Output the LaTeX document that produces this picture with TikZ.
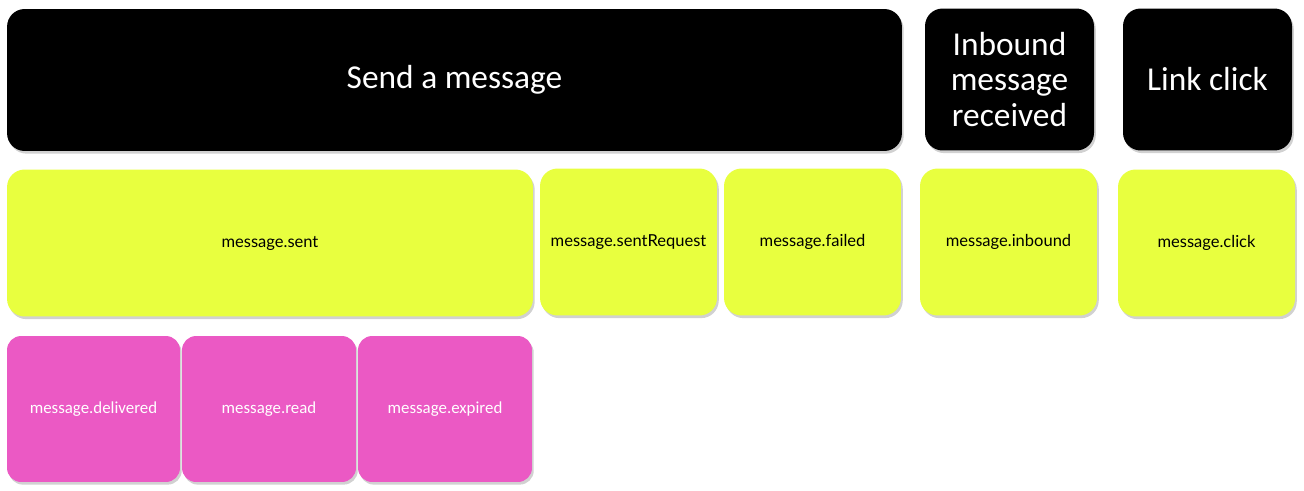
\documentclass[tikz,border=0pt]{standalone}
\usepackage{fontspec}
\setmainfont{Carlito}
\newfontfamily\eventfont{Lato}
\usepackage{tikz}
\usetikzlibrary{shadows,positioning}
\definecolor{evyellow}{HTML}{E8FF3F}
\definecolor{evpink}{HTML}{EB59C4}

\begin{document}
\begin{tikzpicture}[x=0.02cm,y=-0.02cm,
  shade box/.style={rounded corners=10pt,inner sep=0pt,
    drop shadow={shadow xshift=1pt,shadow yshift=-1.5pt,opacity=0.3,fill=black!60}},
  header/.style={shade box,fill=black,text=white,align=center,
    font=\fontsize{19}{20.4}\selectfont,minimum height=2.84cm},
  event/.style={shade box,fill=evyellow,text=black,minimum height=2.94cm,
    font=\eventfont\fontsize{9.4}{10}\selectfont},
  status/.style={shade box,rounded corners=8pt,fill=evpink,text=white,minimum height=2.92cm,
    font=\fontsize{9.6}{10}\selectfont}]
\useasboundingbox (0,0) rectangle (1304,490);
% top row: triggers
\node[header,minimum width=17.9cm] (send) at (454.5,80) {Send a message};
\node[header,minimum width=3.38cm] (inbound) at (1009.5,79.5) {Inbound\\message\\received};
\node[header,minimum width=3.38cm] (link) at (1207.5,79.5) {Link click};
% second row: events
\node[event,minimum width=10.52cm] (sent) at (270,243) {message.sent};
\node[event,minimum width=3.54cm] (sentreq) at (628.5,242) {message.sentRequest};
\node[event,minimum width=3.54cm] (failed) at (812.5,242) {message.failed};
\node[event,minimum width=3.54cm] (inboundev) at (1008.5,242) {message.inbound};
\node[event,minimum width=3.54cm] (click) at (1206.5,243) {message.click};
% third row: status updates
\node[status,minimum width=3.46cm] (delivered) at (93.5,409) {message.delivered};
\node[status,minimum width=3.48cm] (read) at (269,409) {message.read};
\node[status,minimum width=3.48cm] (expired) at (445,409) {message.expired};
\end{tikzpicture}
\end{document}
